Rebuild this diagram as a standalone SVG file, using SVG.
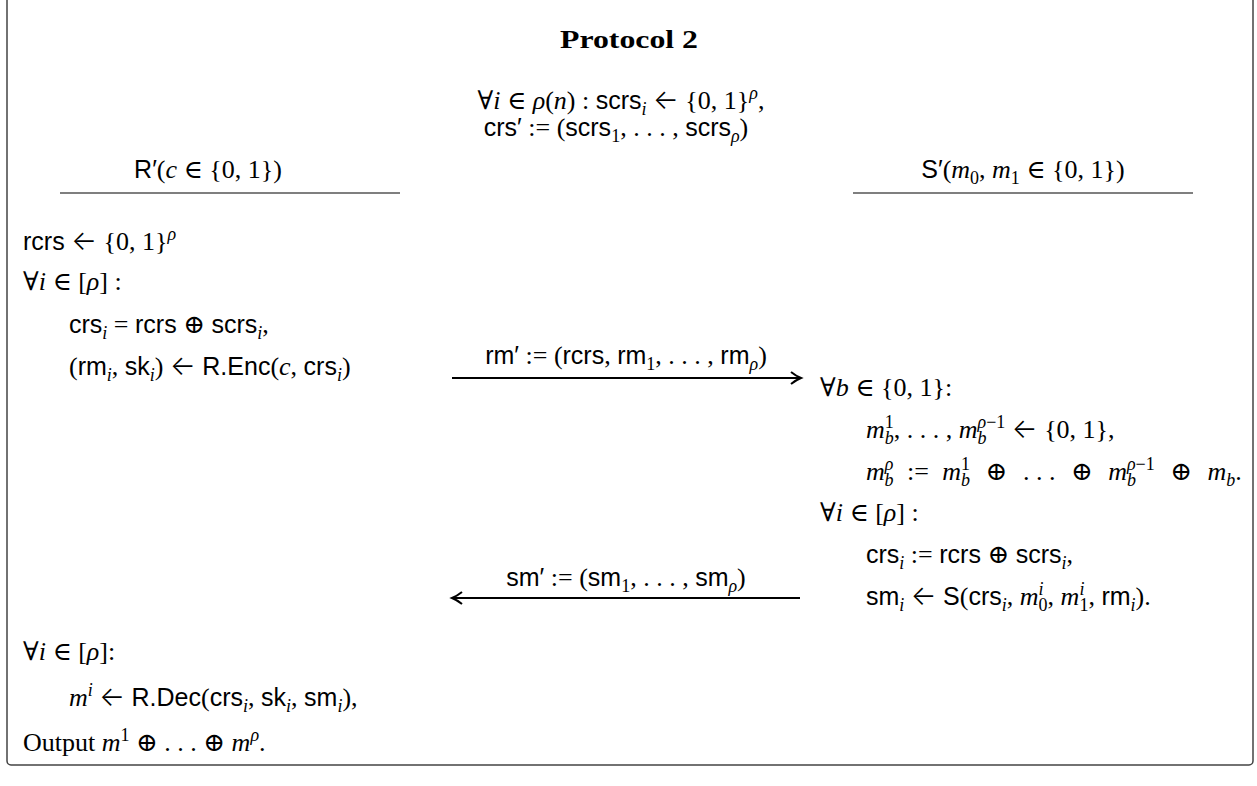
<svg xmlns="http://www.w3.org/2000/svg" width="1257" height="786" viewBox="0 0 1257 786">
<style>
text{font-family:"Liberation Serif","DejaVu Serif",serif;font-size:26px;fill:#000}
.it{font-style:italic}
.sf{font-family:"Liberation Sans","DejaVu Sans",sans-serif;font-size:25px}
.ar{font-family:Inter,"DejaVu Sans",sans-serif;font-weight:300;font-size:27px}
.sb{font-size:18px;baseline-shift:-6px}
.sp{font-size:18px;baseline-shift:10px}
.title{font-weight:bold;font-size:26px}
.rule{stroke:#000;stroke-width:1.2}
.msg{stroke:#000;stroke-width:2;fill:none}
.frame{fill:#fff;stroke:#444;stroke-width:1.5}
</style>
<rect class="frame" x="7" y="-10" width="1246" height="775" rx="4"/>
<g id="title">
<text x="629" y="48" text-anchor="middle" class="title" textLength="138" lengthAdjust="spacingAndGlyphs">Protocol 2</text>
</g>
<g id="setup">
<text x="621" y="109" text-anchor="middle">∀<tspan class="it">i</tspan> ∈ <tspan class="it">ρ</tspan>(<tspan class="it">n</tspan>) : <tspan class="sf">scrs</tspan><tspan class="it sb">i</tspan> <tspan class="ar">←</tspan> {0, 1}<tspan class="it sp">ρ</tspan>,</text>
<text x="616" y="136" text-anchor="middle"><tspan class="sf">crs′</tspan> := (<tspan class="sf">scrs</tspan><tspan class="sb">1</tspan>, . . . , <tspan class="sf">scrs</tspan><tspan class="it sb">ρ</tspan>)</text>
</g>
<g id="receiver">
<text x="208" y="178" text-anchor="middle"><tspan class="sf">R′</tspan>(<tspan class="it">c</tspan> ∈ {0, 1})</text>
<line class="rule" x1="60" y1="193" x2="400" y2="193"/>
<text x="23" y="250"><tspan class="sf">rcrs</tspan> <tspan class="ar">←</tspan> {0, 1}<tspan class="it sp">ρ</tspan></text>
<text x="23" y="290">∀<tspan class="it">i</tspan> ∈ [<tspan class="it">ρ</tspan>] :</text>
<text x="69" y="333"><tspan class="sf">crs</tspan><tspan class="it sb">i</tspan> = <tspan class="sf">rcrs</tspan> ⊕ <tspan class="sf">scrs</tspan><tspan class="it sb">i</tspan>,</text>
<text x="69" y="375">(<tspan class="sf">rm</tspan><tspan class="it sb">i</tspan>, <tspan class="sf">sk</tspan><tspan class="it sb">i</tspan>) <tspan class="ar">←</tspan> <tspan class="sf">R.Enc</tspan>(<tspan class="it">c</tspan>, <tspan class="sf">crs</tspan><tspan class="it sb">i</tspan>)</text>
<text x="23" y="660">∀<tspan class="it">i</tspan> ∈ [<tspan class="it">ρ</tspan>]:</text>
<text x="69" y="706"><tspan class="it">m</tspan><tspan class="it sp">i</tspan> <tspan class="ar">←</tspan> <tspan class="sf">R.Dec</tspan>(<tspan class="sf">crs</tspan><tspan class="it sb">i</tspan>, <tspan class="sf">sk</tspan><tspan class="it sb">i</tspan>, <tspan class="sf">sm</tspan><tspan class="it sb">i</tspan>),</text>
<text x="23" y="751">Output <tspan class="it">m</tspan><tspan class="sp">1</tspan> ⊕ . . . ⊕ <tspan class="it">m</tspan><tspan class="it sp">ρ</tspan>.</text>
</g>
<g id="sender">
<text x="1023" y="178" text-anchor="middle"><tspan class="sf">S′</tspan>(<tspan class="it">m</tspan><tspan class="sb">0</tspan>, <tspan class="it">m</tspan><tspan class="sb">1</tspan> ∈ {0, 1})</text>
<line class="rule" x1="853" y1="193" x2="1193" y2="193"/>
<text x="820" y="396">∀<tspan class="it">b</tspan> ∈ {0, 1}:</text>
<text x="866" y="438"><tspan class="it">m</tspan><tspan class="sp">1</tspan><tspan class="it sb" dx="-9">b</tspan>, . . . , <tspan class="it">m</tspan><tspan class="it sb">b</tspan><tspan class="sp" dx="-9"><tspan class="it">ρ</tspan>−1</tspan> <tspan class="ar">←</tspan> {0, 1},</text>
<text x="866" y="480"><tspan class="it">m</tspan><tspan class="it sp">ρ</tspan><tspan class="it sb" dx="-9">b</tspan> <tspan dx="7">:=</tspan> <tspan dx="7" class="it">m</tspan><tspan class="sp">1</tspan><tspan class="it sb" dx="-9">b</tspan> <tspan dx="9">⊕</tspan> <tspan dx="9">. . .</tspan> <tspan dx="9">⊕</tspan> <tspan dx="9" class="it">m</tspan><tspan class="it sb">b</tspan><tspan class="sp" dx="-9"><tspan class="it">ρ</tspan>−1</tspan> <tspan dx="9">⊕</tspan> <tspan dx="9" class="it">m</tspan><tspan class="it sb">b</tspan>.</text>
<text x="820" y="521">∀<tspan class="it">i</tspan> ∈ [<tspan class="it">ρ</tspan>] :</text>
<text x="866" y="563"><tspan class="sf">crs</tspan><tspan class="it sb">i</tspan> := <tspan class="sf">rcrs</tspan> ⊕ <tspan class="sf">scrs</tspan><tspan class="it sb">i</tspan>,</text>
<text x="866" y="605"><tspan class="sf">sm</tspan><tspan class="it sb">i</tspan> <tspan class="ar">←</tspan> <tspan class="sf">S</tspan>(<tspan class="sf">crs</tspan><tspan class="it sb">i</tspan>, <tspan class="it">m</tspan><tspan class="it sp">i</tspan><tspan class="sb" dx="-5">0</tspan>, <tspan class="it">m</tspan><tspan class="it sp">i</tspan><tspan class="sb" dx="-5">1</tspan>, <tspan class="sf">rm</tspan><tspan class="it sb">i</tspan>).</text>
</g>
<g id="connectors">
<g id="msg-rm">
<text x="626" y="364" text-anchor="middle"><tspan class="sf">rm′</tspan> := (<tspan class="sf">rcrs</tspan>, <tspan class="sf">rm</tspan><tspan class="sb">1</tspan>, . . . , <tspan class="sf">rm</tspan><tspan class="it sb">ρ</tspan>)</text>
<path class="msg" d="M452,378 H800"/>
<path class="msg" d="M791,372 Q796,376 801,378 Q796,380 791,384"/>
</g>
<g id="msg-sm">
<text x="626" y="586" text-anchor="middle"><tspan class="sf">sm′</tspan> := (<tspan class="sf">sm</tspan><tspan class="sb">1</tspan>, . . . , <tspan class="sf">sm</tspan><tspan class="it sb">ρ</tspan>)</text>
<path class="msg" d="M453,598 H800"/>
<path class="msg" d="M462,592 Q457,596 452,598 Q457,600 462,604"/>
</g>
</g>
</svg>
